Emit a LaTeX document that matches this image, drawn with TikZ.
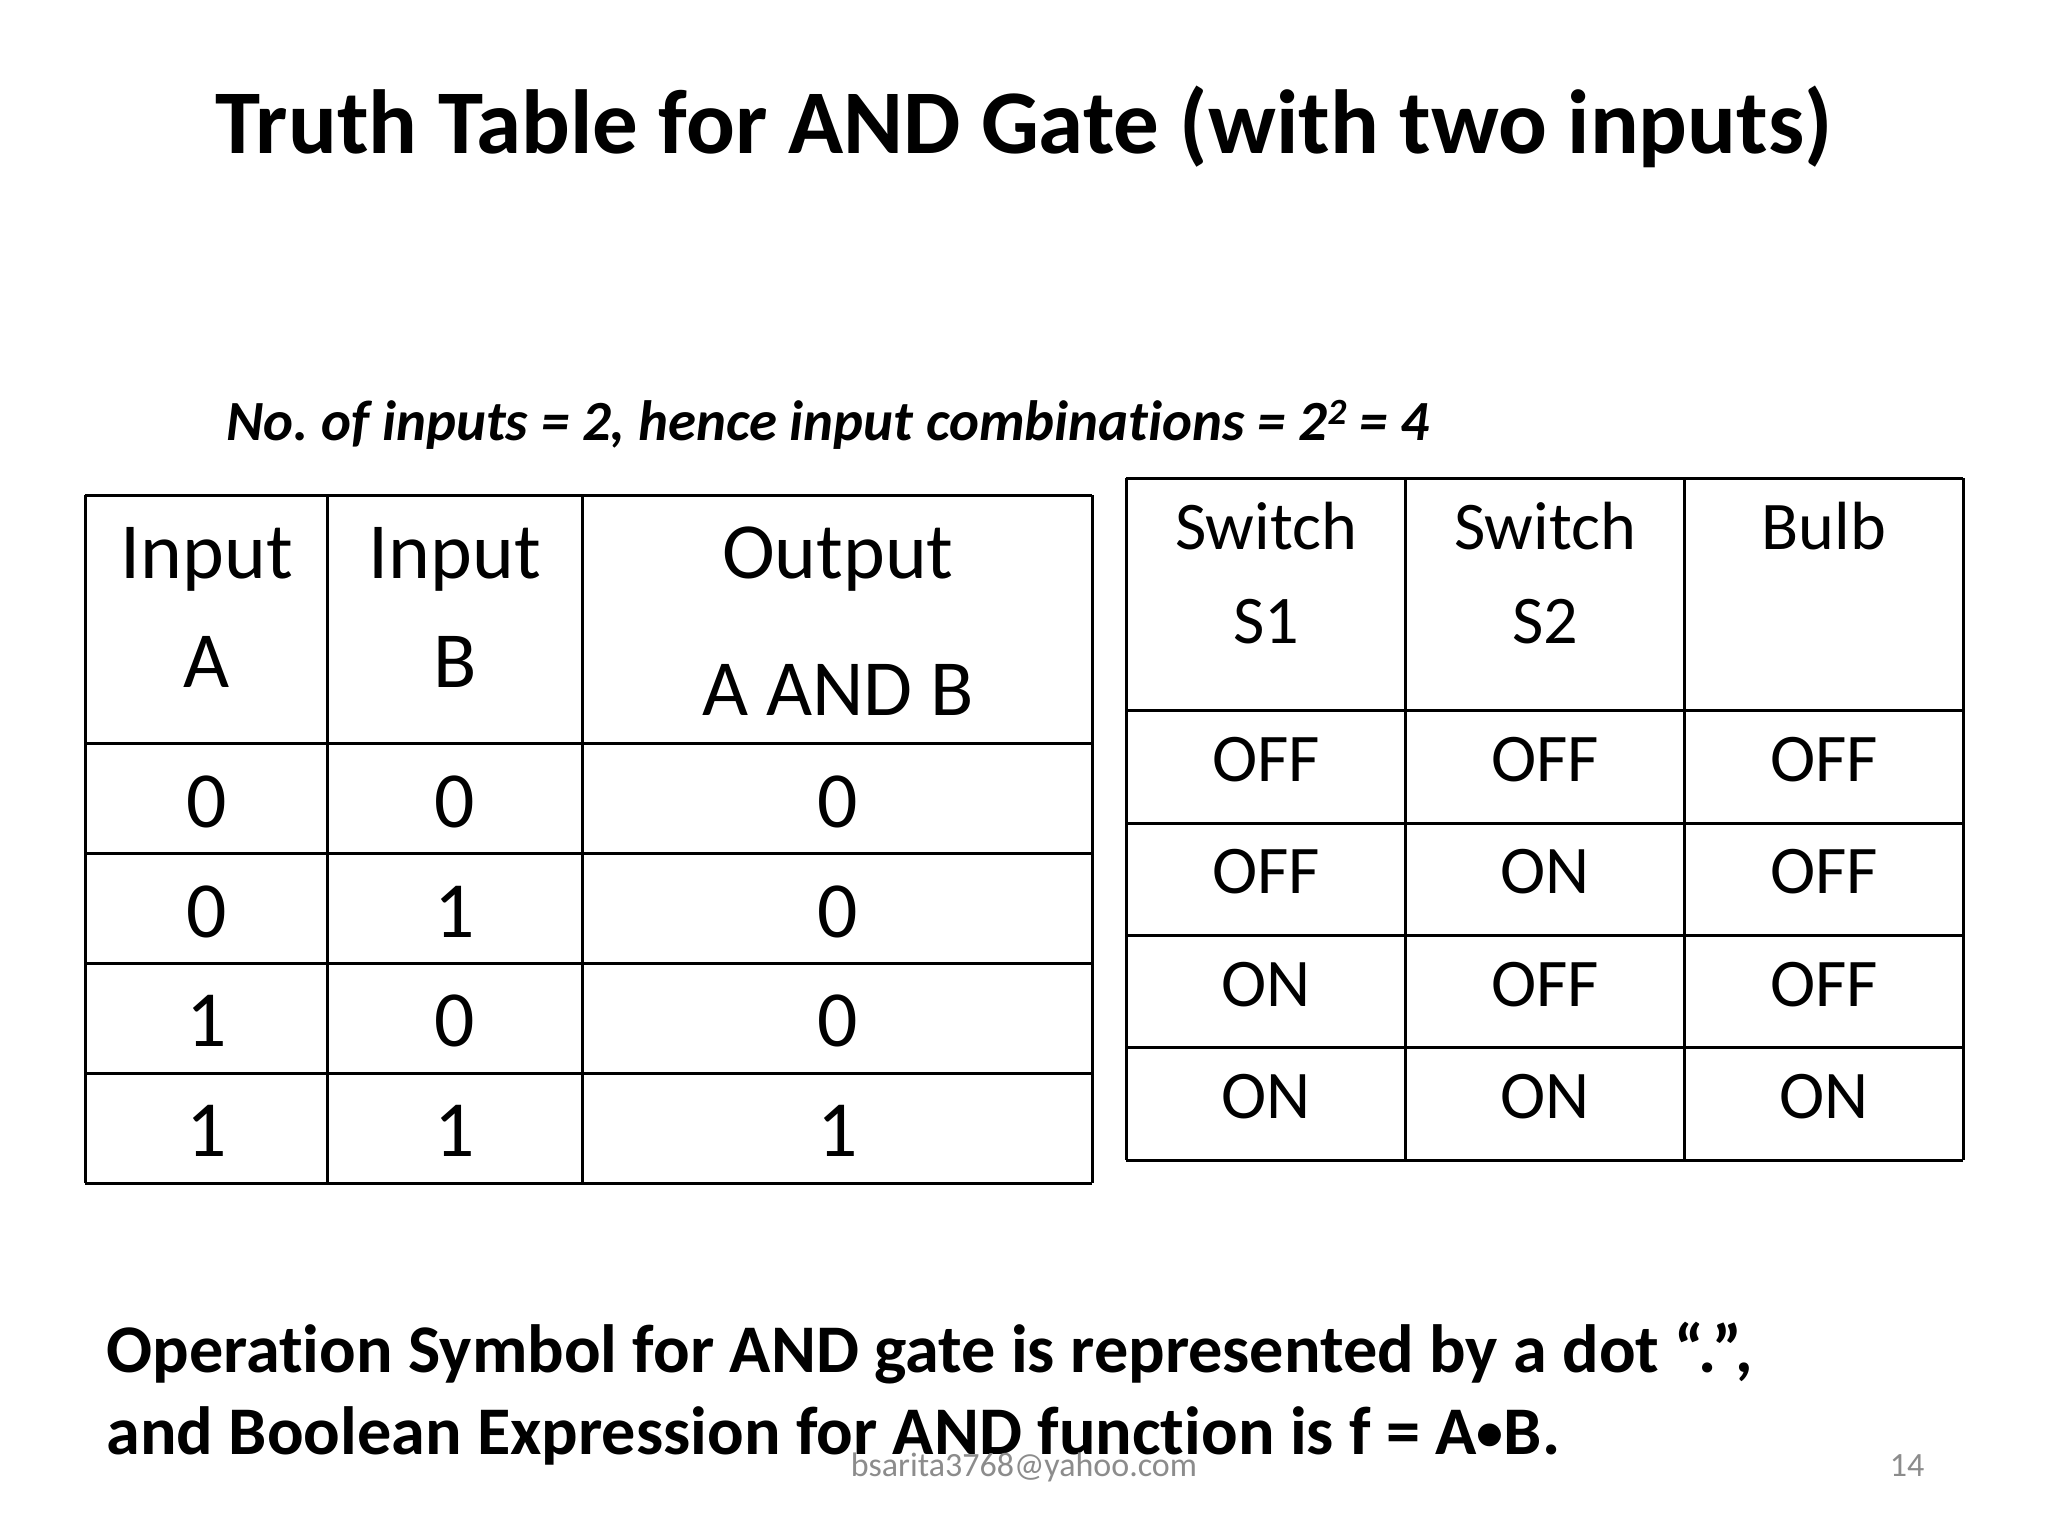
\documentclass[tikz,border=0pt]{standalone}
\usepackage{fontspec}
\setmainfont[Ligatures=NoCommon]{Carlito}
\newcommand{\fsz}[1]{\fontsize{#1}{#1}\selectfont}
\frenchspacing
\begin{document}
\begin{tikzpicture}[x=0.5pt,y=-0.5pt]

        % Styles
        \tikzstyle{table line}=[line width=1.5pt,black]
        \tikzstyle{title text}=[anchor=base,font=\fsz{45.5}\bfseries]
        \tikzstyle{note text}=[anchor=base west,inner sep=0pt,font=\fsz{28.4}\bfseries\itshape]
        \tikzstyle{remark text}=[anchor=base west,inner sep=0pt,font=\fsz{34.1}\bfseries]
        \tikzstyle{left cell}=[anchor=base,inner sep=0pt,font=\fsz{39.8}]
        \tikzstyle{right cell}=[anchor=base,inner sep=0pt,font=\fsz{34.1}]
        \tikzstyle{footer text}=[anchor=base,inner sep=0pt,text=black!45,font=\fsz{17}]
        \useasboundingbox (0,0) rectangle (2048,1536);
        \fill[white] (0,0) rectangle (2048,1536);
        %The graphic
        \node[title text] (title) at (1024,153) {Truth Table for AND Gate (with two inputs)};
        \node[note text] (note) at (226,440) {No. of inputs = 2, hence input combinations = 2\raisebox{0.55ex}{\fsz{18.5}2} = 4};
        %left table
        \foreach \x in {85,327,582.5,1092}
            \draw[table line] (\x,495) -- (\x,1183);
        \foreach \y in {495,743,853,963,1073,1183}
            \draw[table line] (85,\y) -- (1092,\y);
        \node[left cell] (inputa) at (207,578) {Input};
        \node[left cell] (inputb) at (455,578) {Input};
        \node[left cell] (output) at (838,578) {Output};
        \node[left cell] (namea) at (207,687) {A};
        \node[left cell] (nameb) at (455,687) {B};
        \node[left cell] (nameout) at (838,715) {A AND B};
        \foreach \y/\atext/\btext/\ftext in {827/0/0/0,937/0/1/0,1046.5/1/0/0,1156/1/1/1}{
            \node[left cell] (a\y) at (207,\y) {\atext};
            \node[left cell] (b\y) at (455,\y) {\btext};
            \node[left cell] (f\y) at (838,\y) {\ftext};
        }
        %right table
        \foreach \x in {1126,1405,1684,1963}
            \draw[table line] (\x,478) -- (\x,1160);
        \foreach \y in {478,710,823,935,1047.5,1160}
            \draw[table line] (1126,\y) -- (1963,\y);
        \node[right cell] (switcha) at (1266,549) {Switch};
        \node[right cell] (switchb) at (1545,549) {Switch};
        \node[right cell] (bulb) at (1824,549) {Bulb};
        \node[right cell] (sa) at (1266,643) {S1};
        \node[right cell] (sb) at (1545,643) {S2};
        \foreach \y/\atext/\btext/\ftext in {781/OFF/OFF/OFF,893/OFF/ON/OFF,1006/ON/OFF/OFF,1118/ON/ON/ON}{
            \node[right cell] (sone\y) at (1266,\y) {\atext};
            \node[right cell] (stwo\y) at (1545,\y) {\btext};
            \node[right cell] (lamp\y) at (1824,\y) {\ftext};
        }
        %remarks
        \node[remark text] (symbol) at (106,1372) {Operation Symbol for AND gate is represented by a dot “.”,};
        \node[remark text] (boolean) at (106,1454) {and Boolean Expression for AND function is f = A\raisebox{1.6pt}{\fsz{27}•}B.};
        \node[footer text] (mail) at (1024,1476) {bsarita3768@yahoo.com};
        \node[footer text] (page) at (1907,1476) {14};
\end{tikzpicture}
\end{document}
